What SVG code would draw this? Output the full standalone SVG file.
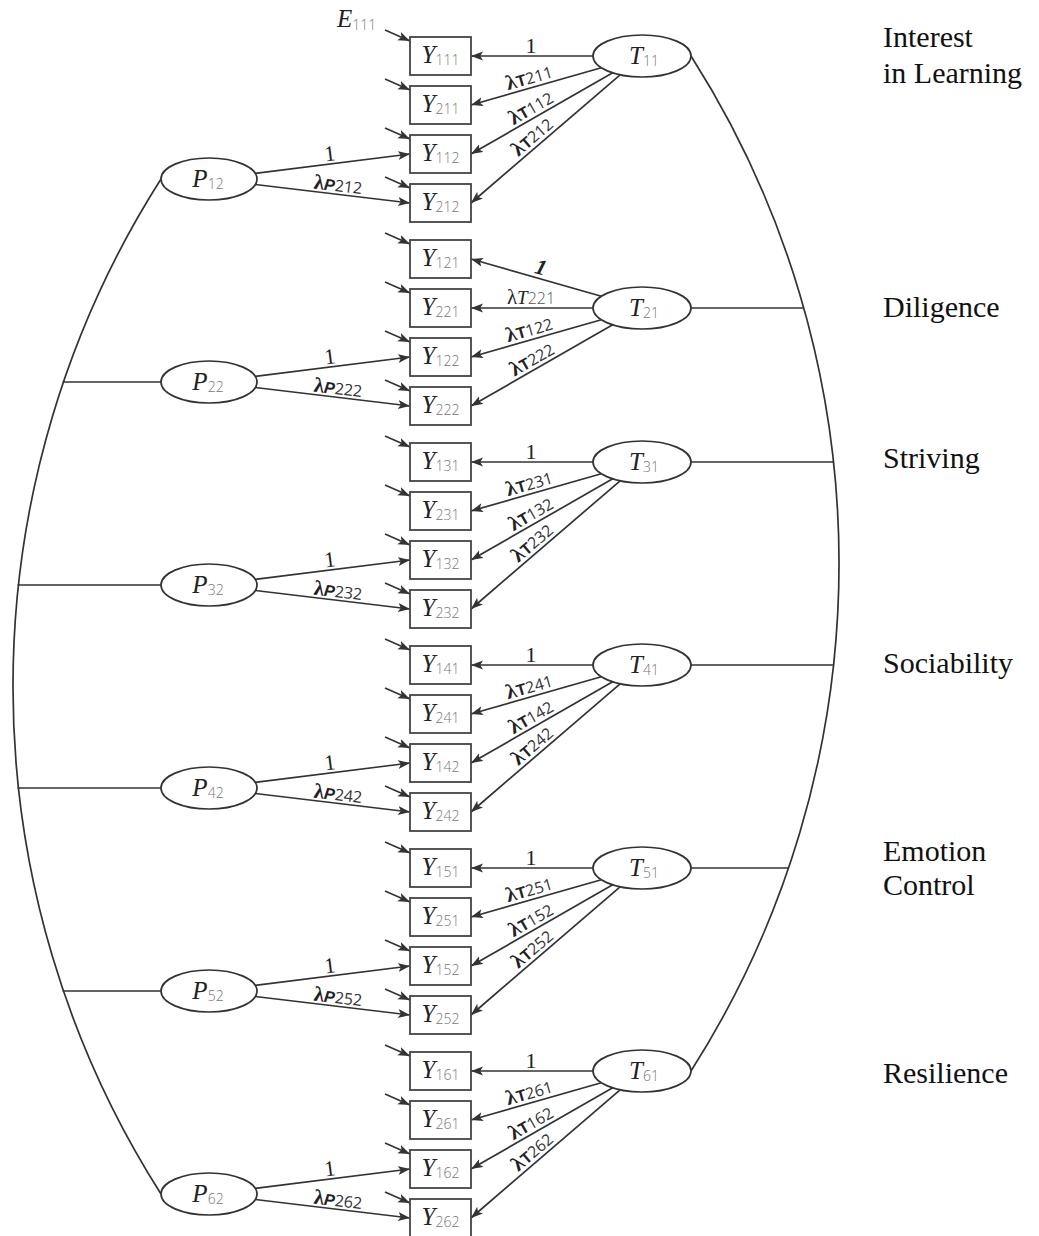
<svg xmlns="http://www.w3.org/2000/svg" width="1039" height="1236" viewBox="0 0 1039 1236">
  <defs>
    <marker id="ah" markerWidth="13" markerHeight="10" refX="12" refY="4.5" orient="auto" markerUnits="userSpaceOnUse">
      <path d="M0,0 L12,4.5 L0,9 L2.8,4.5 z" fill="#333"/>
    </marker>
    <style>
      .box { fill:#fff; stroke:#444; stroke-width:1.8; }
      .lat { fill:#fff; stroke:#333; stroke-width:1.7; }
      .cn { fill:none; stroke:#333; stroke-width:1.7; }
      .arr { fill:none; stroke:#333; stroke-width:1.7; marker-end:url(#ah); }
      .v { font-family:"Liberation Serif","DejaVu Serif",serif; font-style:italic; font-size:25px; fill:#222; }
      .s { font-family:"Open Sans","Noto Sans",sans-serif; font-weight:300; font-size:14px; fill:#777; font-style:normal; }
      .lam { font-size:16px; fill:#222; text-anchor:middle; }
      .lb { font-family:"Liberation Serif","DejaVu Serif",serif; font-weight:bold; font-size:21px; }
      .lr { font-family:"Liberation Serif","DejaVu Serif",serif; font-size:21px; }
      .lt { font-family:"Liberation Sans",sans-serif; font-weight:bold; font-size:16px; }
      .lti { font-family:"Liberation Serif",serif; font-style:italic; font-size:19px; }
      .lp { font-family:"Liberation Sans",sans-serif; font-weight:bold; font-style:italic; font-size:16px; }
      .ld { font-family:"Open Sans","Noto Sans",sans-serif; font-weight:400; font-size:16px; fill:#333; }
      .ldl { font-family:"Open Sans","Noto Sans",sans-serif; font-weight:300; font-size:16px; fill:#555; }
      .one { font-family:"Liberation Serif","DejaVu Serif",serif; font-size:22px; fill:#222; text-anchor:middle; }
      .cat { font-family:"Liberation Serif","DejaVu Serif",serif; font-size:30px; fill:#111; }
    </style>
  </defs>

  <!-- connectors: arcs, links and loadings -->
  <g id="connectors">
    <path class="cn" d="M161,179 A944,944 0 0 0 161,1194"/>
    <path class="cn" d="M62.5,382 L161,382 M17.5,585 L161,585 M17.5,788 L161,788 M62.5,991 L161,991"/>
    <path class="cn" d="M691,56 A944,944 0 0 1 691,1071"/>
    <path class="cn" d="M691,308 L803.8,308 M691,462 L833.5,462 M691,665 L833.5,665 M691,868 L788.5,868"/>

    <!-- block 1 -->
    <path class="arr" d="M593,56 L471,56"/>
    <path class="arr" d="M601.3,67.7 L471,105"/>
    <path class="arr" d="M612.7,72.8 L471,154"/>
    <path class="arr" d="M620.1,74.8 L471,203"/>
    <path class="arr" d="M255.2,173.3 L410,154"/>
    <path class="arr" d="M255.3,184.5 L410,203"/>
    <path class="arr" d="M385,30 L410,41"/>
    <path class="arr" d="M385,79 L410,90"/>
    <path class="arr" d="M385,128 L410,139"/>
    <path class="arr" d="M385,177 L410,188"/>

    <!-- block 2 -->
    <path class="arr" d="M601.3,296.3 L471,259"/>
    <path class="arr" d="M593,308 L471,308"/>
    <path class="arr" d="M601.3,319.7 L471,357"/>
    <path class="arr" d="M612.7,324.8 L471,406"/>
    <path class="arr" d="M255.2,376.3 L410,357"/>
    <path class="arr" d="M255.3,387.5 L410,406"/>
    <path class="arr" d="M385,233 L410,244"/>
    <path class="arr" d="M385,282 L410,293"/>
    <path class="arr" d="M385,331 L410,342"/>
    <path class="arr" d="M385,380 L410,391"/>

    <!-- block 3 -->
    <path class="arr" d="M593,462 L471,462"/>
    <path class="arr" d="M601.3,473.7 L471,511"/>
    <path class="arr" d="M612.7,478.8 L471,560"/>
    <path class="arr" d="M620.1,480.8 L471,609"/>
    <path class="arr" d="M255.2,579.3 L410,560"/>
    <path class="arr" d="M255.3,590.5 L410,609"/>
    <path class="arr" d="M385,436 L410,447"/>
    <path class="arr" d="M385,485 L410,496"/>
    <path class="arr" d="M385,534 L410,545"/>
    <path class="arr" d="M385,583 L410,594"/>

    <!-- block 4 -->
    <path class="arr" d="M593,665 L471,665"/>
    <path class="arr" d="M601.3,676.7 L471,714"/>
    <path class="arr" d="M612.7,681.8 L471,763"/>
    <path class="arr" d="M620.1,683.8 L471,812"/>
    <path class="arr" d="M255.2,782.3 L410,763"/>
    <path class="arr" d="M255.3,793.5 L410,812"/>
    <path class="arr" d="M385,639 L410,650"/>
    <path class="arr" d="M385,688 L410,699"/>
    <path class="arr" d="M385,737 L410,748"/>
    <path class="arr" d="M385,786 L410,797"/>

    <!-- block 5 -->
    <path class="arr" d="M593,868 L471,868"/>
    <path class="arr" d="M601.3,879.7 L471,917"/>
    <path class="arr" d="M612.7,884.8 L471,966"/>
    <path class="arr" d="M620.1,886.8 L471,1015"/>
    <path class="arr" d="M255.2,985.3 L410,966"/>
    <path class="arr" d="M255.3,996.5 L410,1015"/>
    <path class="arr" d="M385,842 L410,853"/>
    <path class="arr" d="M385,891 L410,902"/>
    <path class="arr" d="M385,940 L410,951"/>
    <path class="arr" d="M385,989 L410,1000"/>

    <!-- block 6 -->
    <path class="arr" d="M593,1071 L471,1071"/>
    <path class="arr" d="M601.3,1082.7 L471,1120"/>
    <path class="arr" d="M612.7,1087.8 L471,1169"/>
    <path class="arr" d="M620.1,1089.8 L471,1218"/>
    <path class="arr" d="M255.2,1188.3 L410,1169"/>
    <path class="arr" d="M255.3,1199.5 L410,1218"/>
    <path class="arr" d="M385,1045 L410,1056"/>
    <path class="arr" d="M385,1094 L410,1105"/>
    <path class="arr" d="M385,1143 L410,1154"/>
    <path class="arr" d="M385,1192 L410,1203"/>
  </g>

  <!-- loading labels -->
  <g id="loadings">
    <!-- block 1 -->
    <text class="one" x="531" y="53">1</text>
    <g transform="translate(532,87.5) rotate(-16)"><text class="lam" y="-4"><tspan class="lb">λ</tspan><tspan class="lt">T</tspan><tspan class="ld">211</tspan></text></g>
    <g transform="translate(536,116.8) rotate(-29.8)"><text class="lam" y="-4"><tspan class="lb">λ</tspan><tspan class="lt">T</tspan><tspan class="ld">112</tspan></text></g>
    <g transform="translate(539,144.5) rotate(-40.7)"><text class="lam" y="-4"><tspan class="lb">λ</tspan><tspan class="lt">T</tspan><tspan class="ld">212</tspan></text></g>
    <g transform="translate(331,163.8) rotate(-7.1)"><text class="one" y="-3">1</text></g>
    <g transform="translate(337,194.3) rotate(6.8)"><text class="lam" y="-3"><tspan class="lb">λ</tspan><tspan class="lp">P</tspan><tspan class="ld">212</tspan></text></g>

    <!-- block 2 -->
    <g transform="translate(538,278.2) rotate(16)"><text class="one" y="-4" font-style="italic" font-weight="bold">1</text></g>
    <text class="lam" x="531" y="304"><tspan class="lr">λ</tspan><tspan class="lti">T</tspan><tspan class="ldl">221</tspan></text>
    <g transform="translate(532,339.5) rotate(-16)"><text class="lam" y="-4"><tspan class="lb">λ</tspan><tspan class="lt">T</tspan><tspan class="ld">122</tspan></text></g>
    <g transform="translate(537,368.2) rotate(-29.8)"><text class="lam" y="-4"><tspan class="lb">λ</tspan><tspan class="lt">T</tspan><tspan class="ld">222</tspan></text></g>
    <g transform="translate(331,366.8) rotate(-7.1)"><text class="one" y="-3">1</text></g>
    <g transform="translate(337,397.3) rotate(6.8)"><text class="lam" y="-3"><tspan class="lb">λ</tspan><tspan class="lp">P</tspan><tspan class="ld">222</tspan></text></g>

    <!-- block 3 -->
    <text class="one" x="531" y="459">1</text>
    <g transform="translate(532,493.5) rotate(-16)"><text class="lam" y="-4"><tspan class="lb">λ</tspan><tspan class="lt">T</tspan><tspan class="ld">231</tspan></text></g>
    <g transform="translate(536,522.8) rotate(-29.8)"><text class="lam" y="-4"><tspan class="lb">λ</tspan><tspan class="lt">T</tspan><tspan class="ld">132</tspan></text></g>
    <g transform="translate(539,550.5) rotate(-40.7)"><text class="lam" y="-4"><tspan class="lb">λ</tspan><tspan class="lt">T</tspan><tspan class="ld">232</tspan></text></g>
    <g transform="translate(331,569.8) rotate(-7.1)"><text class="one" y="-3">1</text></g>
    <g transform="translate(337,600.3) rotate(6.8)"><text class="lam" y="-3"><tspan class="lb">λ</tspan><tspan class="lp">P</tspan><tspan class="ld">232</tspan></text></g>

    <!-- block 4 -->
    <text class="one" x="531" y="662">1</text>
    <g transform="translate(532,696.5) rotate(-16)"><text class="lam" y="-4"><tspan class="lb">λ</tspan><tspan class="lt">T</tspan><tspan class="ld">241</tspan></text></g>
    <g transform="translate(536,725.8) rotate(-29.8)"><text class="lam" y="-4"><tspan class="lb">λ</tspan><tspan class="lt">T</tspan><tspan class="ld">142</tspan></text></g>
    <g transform="translate(539,753.5) rotate(-40.7)"><text class="lam" y="-4"><tspan class="lb">λ</tspan><tspan class="lt">T</tspan><tspan class="ld">242</tspan></text></g>
    <g transform="translate(331,772.8) rotate(-7.1)"><text class="one" y="-3">1</text></g>
    <g transform="translate(337,803.3) rotate(6.8)"><text class="lam" y="-3"><tspan class="lb">λ</tspan><tspan class="lp">P</tspan><tspan class="ld">242</tspan></text></g>

    <!-- block 5 -->
    <text class="one" x="531" y="865">1</text>
    <g transform="translate(532,899.5) rotate(-16)"><text class="lam" y="-4"><tspan class="lb">λ</tspan><tspan class="lt">T</tspan><tspan class="ld">251</tspan></text></g>
    <g transform="translate(536,928.8) rotate(-29.8)"><text class="lam" y="-4"><tspan class="lb">λ</tspan><tspan class="lt">T</tspan><tspan class="ld">152</tspan></text></g>
    <g transform="translate(539,956.5) rotate(-40.7)"><text class="lam" y="-4"><tspan class="lb">λ</tspan><tspan class="lt">T</tspan><tspan class="ld">252</tspan></text></g>
    <g transform="translate(331,975.8) rotate(-7.1)"><text class="one" y="-3">1</text></g>
    <g transform="translate(337,1006.3) rotate(6.8)"><text class="lam" y="-3"><tspan class="lb">λ</tspan><tspan class="lp">P</tspan><tspan class="ld">252</tspan></text></g>

    <!-- block 6 -->
    <text class="one" x="531" y="1068">1</text>
    <g transform="translate(532,1102.5) rotate(-16)"><text class="lam" y="-4"><tspan class="lb">λ</tspan><tspan class="lt">T</tspan><tspan class="ld">261</tspan></text></g>
    <g transform="translate(536,1131.8) rotate(-29.8)"><text class="lam" y="-4"><tspan class="lb">λ</tspan><tspan class="lt">T</tspan><tspan class="ld">162</tspan></text></g>
    <g transform="translate(539,1159.5) rotate(-40.7)"><text class="lam" y="-4"><tspan class="lb">λ</tspan><tspan class="lt">T</tspan><tspan class="ld">262</tspan></text></g>
    <g transform="translate(331,1178.8) rotate(-7.1)"><text class="one" y="-3">1</text></g>
    <g transform="translate(337,1209.3) rotate(6.8)"><text class="lam" y="-3"><tspan class="lb">λ</tspan><tspan class="lp">P</tspan><tspan class="ld">262</tspan></text></g>

    <!-- error term -->
    <text class="v" x="337" y="27" font-size="23">E<tspan class="s" dy="3">111</tspan></text>
  </g>

  <!-- observed indicators -->
  <g id="y111"><rect class="box" x="410" y="37" width="61" height="38"/><text class="v" x="440.5" y="63" text-anchor="middle">Y<tspan class="s" dy="2">111</tspan></text></g>
  <g id="y211"><rect class="box" x="410" y="86" width="61" height="38"/><text class="v" x="440.5" y="112" text-anchor="middle">Y<tspan class="s" dy="2">211</tspan></text></g>
  <g id="y112"><rect class="box" x="410" y="135" width="61" height="38"/><text class="v" x="440.5" y="161" text-anchor="middle">Y<tspan class="s" dy="2">112</tspan></text></g>
  <g id="y212"><rect class="box" x="410" y="184" width="61" height="38"/><text class="v" x="440.5" y="210" text-anchor="middle">Y<tspan class="s" dy="2">212</tspan></text></g>

  <g id="y121"><rect class="box" x="410" y="240" width="61" height="38"/><text class="v" x="440.5" y="266" text-anchor="middle">Y<tspan class="s" dy="2">121</tspan></text></g>
  <g id="y221"><rect class="box" x="410" y="289" width="61" height="38"/><text class="v" x="440.5" y="315" text-anchor="middle">Y<tspan class="s" dy="2">221</tspan></text></g>
  <g id="y122"><rect class="box" x="410" y="338" width="61" height="38"/><text class="v" x="440.5" y="364" text-anchor="middle">Y<tspan class="s" dy="2">122</tspan></text></g>
  <g id="y222"><rect class="box" x="410" y="387" width="61" height="38"/><text class="v" x="440.5" y="413" text-anchor="middle">Y<tspan class="s" dy="2">222</tspan></text></g>

  <g id="y131"><rect class="box" x="410" y="443" width="61" height="38"/><text class="v" x="440.5" y="469" text-anchor="middle">Y<tspan class="s" dy="2">131</tspan></text></g>
  <g id="y231"><rect class="box" x="410" y="492" width="61" height="38"/><text class="v" x="440.5" y="518" text-anchor="middle">Y<tspan class="s" dy="2">231</tspan></text></g>
  <g id="y132"><rect class="box" x="410" y="541" width="61" height="38"/><text class="v" x="440.5" y="567" text-anchor="middle">Y<tspan class="s" dy="2">132</tspan></text></g>
  <g id="y232"><rect class="box" x="410" y="590" width="61" height="38"/><text class="v" x="440.5" y="616" text-anchor="middle">Y<tspan class="s" dy="2">232</tspan></text></g>

  <g id="y141"><rect class="box" x="410" y="646" width="61" height="38"/><text class="v" x="440.5" y="672" text-anchor="middle">Y<tspan class="s" dy="2">141</tspan></text></g>
  <g id="y241"><rect class="box" x="410" y="695" width="61" height="38"/><text class="v" x="440.5" y="721" text-anchor="middle">Y<tspan class="s" dy="2">241</tspan></text></g>
  <g id="y142"><rect class="box" x="410" y="744" width="61" height="38"/><text class="v" x="440.5" y="770" text-anchor="middle">Y<tspan class="s" dy="2">142</tspan></text></g>
  <g id="y242"><rect class="box" x="410" y="793" width="61" height="38"/><text class="v" x="440.5" y="819" text-anchor="middle">Y<tspan class="s" dy="2">242</tspan></text></g>

  <g id="y151"><rect class="box" x="410" y="849" width="61" height="38"/><text class="v" x="440.5" y="875" text-anchor="middle">Y<tspan class="s" dy="2">151</tspan></text></g>
  <g id="y251"><rect class="box" x="410" y="898" width="61" height="38"/><text class="v" x="440.5" y="924" text-anchor="middle">Y<tspan class="s" dy="2">251</tspan></text></g>
  <g id="y152"><rect class="box" x="410" y="947" width="61" height="38"/><text class="v" x="440.5" y="973" text-anchor="middle">Y<tspan class="s" dy="2">152</tspan></text></g>
  <g id="y252"><rect class="box" x="410" y="996" width="61" height="38"/><text class="v" x="440.5" y="1022" text-anchor="middle">Y<tspan class="s" dy="2">252</tspan></text></g>

  <g id="y161"><rect class="box" x="410" y="1052" width="61" height="38"/><text class="v" x="440.5" y="1078" text-anchor="middle">Y<tspan class="s" dy="2">161</tspan></text></g>
  <g id="y261"><rect class="box" x="410" y="1101" width="61" height="38"/><text class="v" x="440.5" y="1127" text-anchor="middle">Y<tspan class="s" dy="2">261</tspan></text></g>
  <g id="y162"><rect class="box" x="410" y="1150" width="61" height="38"/><text class="v" x="440.5" y="1176" text-anchor="middle">Y<tspan class="s" dy="2">162</tspan></text></g>
  <g id="y262"><rect class="box" x="410" y="1199" width="61" height="38"/><text class="v" x="440.5" y="1225" text-anchor="middle">Y<tspan class="s" dy="2">262</tspan></text></g>

  <!-- trait factors -->
  <g id="t11"><ellipse class="lat" cx="642" cy="56" rx="49" ry="21"/><text class="v" x="644" y="64" text-anchor="middle">T<tspan class="s" dy="2">11</tspan></text></g>
  <g id="t21"><ellipse class="lat" cx="642" cy="308" rx="49" ry="21"/><text class="v" x="644" y="316" text-anchor="middle">T<tspan class="s" dy="2">21</tspan></text></g>
  <g id="t31"><ellipse class="lat" cx="642" cy="462" rx="49" ry="21"/><text class="v" x="644" y="470" text-anchor="middle">T<tspan class="s" dy="2">31</tspan></text></g>
  <g id="t41"><ellipse class="lat" cx="642" cy="665" rx="49" ry="21"/><text class="v" x="644" y="673" text-anchor="middle">T<tspan class="s" dy="2">41</tspan></text></g>
  <g id="t51"><ellipse class="lat" cx="642" cy="868" rx="49" ry="21"/><text class="v" x="644" y="876" text-anchor="middle">T<tspan class="s" dy="2">51</tspan></text></g>
  <g id="t61"><ellipse class="lat" cx="642" cy="1071" rx="49" ry="21"/><text class="v" x="644" y="1079" text-anchor="middle">T<tspan class="s" dy="2">61</tspan></text></g>

  <!-- occasion factors -->
  <g id="p12"><ellipse class="lat" cx="209" cy="179" rx="48" ry="21"/><text class="v" x="208" y="187" text-anchor="middle">P<tspan class="s" dy="2">12</tspan></text></g>
  <g id="p22"><ellipse class="lat" cx="209" cy="382" rx="48" ry="21"/><text class="v" x="208" y="390" text-anchor="middle">P<tspan class="s" dy="2">22</tspan></text></g>
  <g id="p32"><ellipse class="lat" cx="209" cy="585" rx="48" ry="21"/><text class="v" x="208" y="593" text-anchor="middle">P<tspan class="s" dy="2">32</tspan></text></g>
  <g id="p42"><ellipse class="lat" cx="209" cy="788" rx="48" ry="21"/><text class="v" x="208" y="796" text-anchor="middle">P<tspan class="s" dy="2">42</tspan></text></g>
  <g id="p52"><ellipse class="lat" cx="209" cy="991" rx="48" ry="21"/><text class="v" x="208" y="999" text-anchor="middle">P<tspan class="s" dy="2">52</tspan></text></g>
  <g id="p62"><ellipse class="lat" cx="209" cy="1194" rx="48" ry="21"/><text class="v" x="208" y="1202" text-anchor="middle">P<tspan class="s" dy="2">62</tspan></text></g>

  <!-- trait names -->
  <g id="names">
    <text class="cat" x="883" y="47">Interest</text>
    <text class="cat" x="883" y="83">in Learning</text>
    <text class="cat" x="883" y="317">Diligence</text>
    <text class="cat" x="883" y="468">Striving</text>
    <text class="cat" x="883" y="673">Sociability</text>
    <text class="cat" x="883" y="861">Emotion</text>
    <text class="cat" x="883" y="895">Control</text>
    <text class="cat" x="883" y="1083">Resilience</text>
  </g>
</svg>
